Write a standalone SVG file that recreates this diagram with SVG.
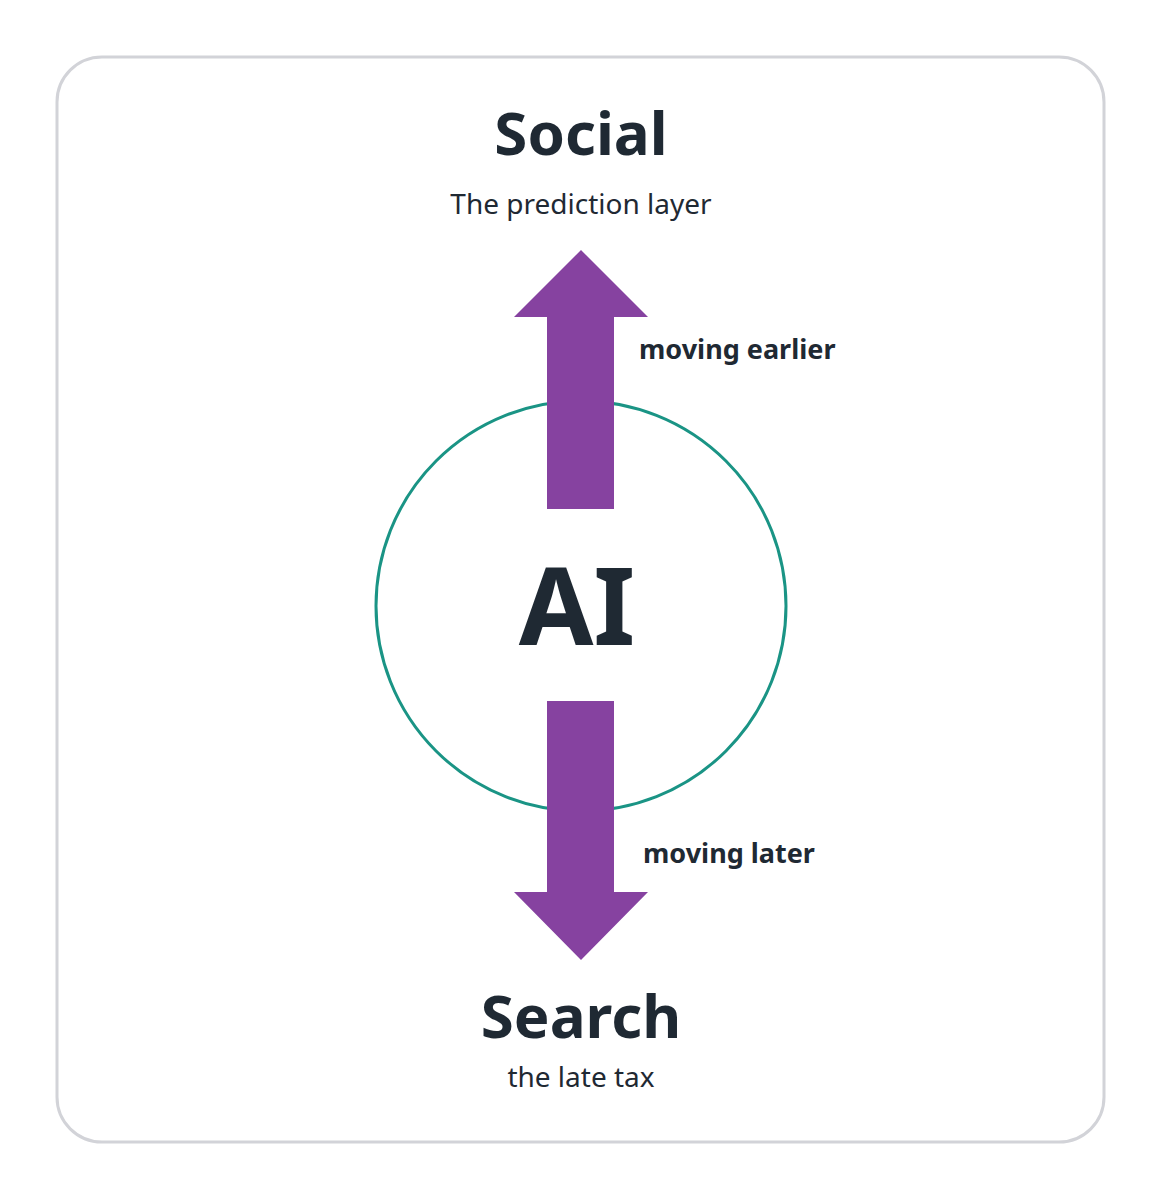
<svg xmlns="http://www.w3.org/2000/svg" width="1162" height="1200" viewBox="0 0 1162 1200">
<style>
text{font-family:"Noto Sans","Open Sans",sans-serif;fill:#1f2933;text-anchor:middle}
.t{font-weight:700;font-size:60px}
.s{font-size:28px}
.l{font-weight:700;font-size:27px;text-anchor:start}
.arr{fill:#8642a0}
</style>
<rect x="0" y="0" width="1162" height="1200" fill="#fff"/>
<rect x="57" y="57" width="1047" height="1085" rx="45" fill="#fff" stroke="#d2d3d8" stroke-width="3"/>
<g id="ai"><circle cx="581" cy="606" r="205" fill="none" stroke="#1a9485" stroke-width="3"/>
<text x="577" y="645" style="font-weight:700;font-size:108px">AI</text></g>
<g id="connectors">
<polygon class="arr" points="547,509 547,317 514,317 581,250 648,317 614,317 614,509"/>
<polygon class="arr" points="547,701 547,892 514,892 581,960 648,892 614,892 614,701"/>
<text class="l" x="639" y="359">moving earlier</text>
<text class="l" x="643" y="863">moving later</text>
</g>
<g id="social"><text class="t" x="581" y="155">Social</text><text class="s" x="581" y="214">The prediction layer</text></g>
<g id="search"><text class="t" x="581" y="1038">Search</text><text class="s" x="581" y="1087">the late tax</text></g>
</svg>
